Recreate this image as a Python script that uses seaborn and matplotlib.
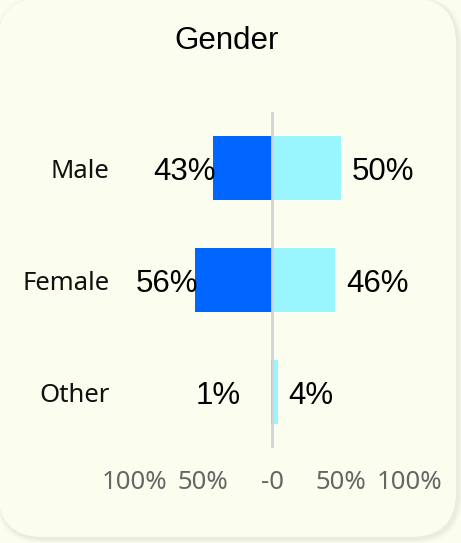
import matplotlib
matplotlib.use("Agg")
import matplotlib.pyplot as plt
from matplotlib.patches import FancyBboxPatch
import pandas as pd
import seaborn as sns

# Survey shares by gender, split into the two compared groups
genders = ["Male", "Female", "Other"]
left_share = [43, 56, 1]     # drawn to the left of zero
right_share = [50, 46, 4]    # drawn to the right of zero
tick_values = [-100, -50, 0, 50, 100]
tick_labels = ["100%", "50%", "-0", "50%", "100%"]
title = "Gender"

LEFT_COLOR = "#0066FF"
RIGHT_COLOR = "#99F6FF"
CARD_COLOR = "#FBFEEE"

sns.set_theme(style="white")
plt.rcParams["font.family"] = ["Liberation Sans", "DejaVu Sans"]

W, H = 461, 543
fig = plt.figure(figsize=(W / 100, H / 100), dpi=100, facecolor=CARD_COLOR)

# Card with a soft drop shadow, drawn in pixel coordinates
bg = fig.add_axes([0, 0, 1, 1], zorder=0)
bg.set_xlim(0, W)
bg.set_ylim(H, 0)
bg.axis("off")
for i, a in enumerate([0.02, 0.025, 0.03, 0.04, 0.05]):
    grow = 5 - i
    bg.add_patch(FancyBboxPatch((-grow, -grow), 458 + 2 * grow, 539 + 2 * grow,
                                boxstyle=f"round,pad=0,rounding_size={45 + grow}",
                                fc="#9a9a80", ec="none", alpha=a))
bg.add_patch(FancyBboxPatch((-2, -2), 458, 539, boxstyle="round,pad=0,rounding_size=45",
                            fc=CARD_COLOR, ec="none"))

# Long-form table: left group stored as negative values
df = pd.DataFrame({
    "gender": genders * 2,
    "share": [-v / 100 for v in left_share] + [v / 100 for v in right_share],
    "side": ["left"] * len(genders) + ["right"] * len(genders),
})

px = 137.5  # pixels per 100%
x0, x1 = -1.15, 1.3
zero_px = 272
ax_left = zero_px + x0 * px
ax = fig.add_axes([ax_left / W, (H - 448) / H, (x1 - x0) * px / W, 336 / H], zorder=1)
ax.set_facecolor("none")

sns.barplot(data=df, x="share", y="gender", hue="side", order=genders,
            palette={"left": LEFT_COLOR, "right": RIGHT_COLOR}, dodge=False,
            width=0.57, orient="h", saturation=1, legend=False, ax=ax, zorder=2,
            linewidth=0)

ax.axvline(0, color="#d4d4d4", lw=2, zorder=3)
ax.set_xlim(x0, x1)
ax.set_ylim(2.5, -0.5)
for s in ax.spines.values():
    s.set_visible(False)

ax.set_xticks([t / 100 for t in tick_values])
ax.set_xticklabels(tick_labels, family=["Noto Sans", "DejaVu Sans"], fontsize=18.5, color="#666666")
ax.set_yticks(range(len(genders)))
ax.set_yticklabels(genders, family=["Noto Sans", "DejaVu Sans"], fontsize=18.5, color="#111111")
ax.tick_params(axis="x", length=0, pad=16)
ax.tick_params(axis="y", length=0, pad=3)
ax.set_xlabel("")
ax.set_ylabel("")
ax.grid(False)

# Value labels beside each bar
for i, (lv, rv) in enumerate(zip(left_share, right_share)):
    lx = -max(lv / 100, 0.25) + 0.02
    ax.annotate(f"{lv}%", xy=(lx, i), xytext=(0, -8.3), textcoords="offset points",
                ha="right", va="baseline", fontsize=22.5, color="black", zorder=4,
                annotation_clip=False)
    rx = rv / 100 + 0.08
    ax.annotate(f"{rv}%", xy=(rx, i), xytext=(0, -8.3), textcoords="offset points",
                ha="left", va="baseline", fontsize=22.5, color="black", zorder=4,
                annotation_clip=False)

fig.text(227 / W, 1 - 49 / H, title, ha="center", va="baseline", fontsize=22.5, color="black")

fig.savefig("out.png", dpi=100, facecolor=CARD_COLOR)
